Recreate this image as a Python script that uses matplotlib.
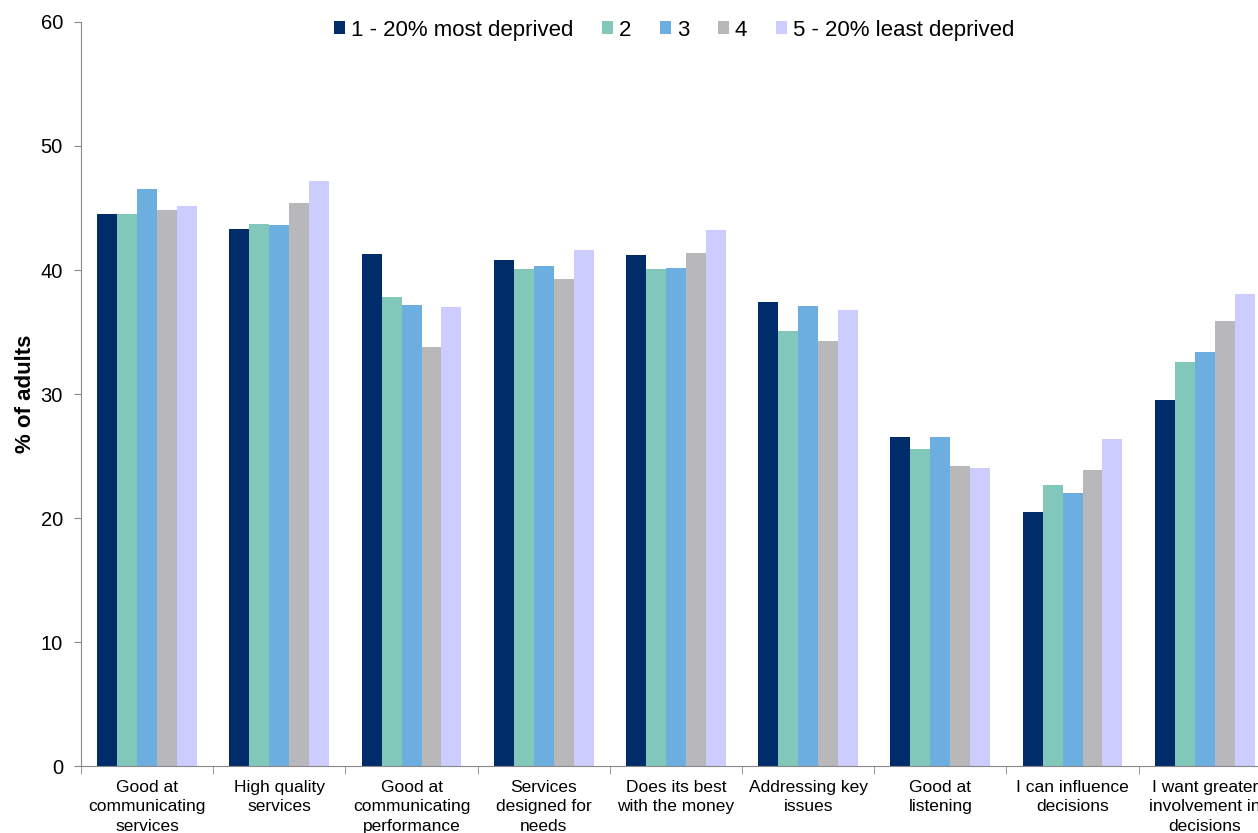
import numpy as np
import matplotlib
matplotlib.use("Agg")
import matplotlib.pyplot as plt

plt.rcParams['font.family'] = ['Liberation Sans', 'DejaVu Sans']

# categories and values (% of adults) per deprivation quintile
categories = [
    "Good at\ncommunicating\nservices",
    "High quality\nservices",
    "Good at\ncommunicating\nperformance",
    "Services\ndesigned for\nneeds",
    "Does its best\nwith the money",
    "Addressing key\nissues",
    "Good at\nlistening",
    "I can influence\ndecisions",
    "I want greater\ninvolvement in\ndecisions",
]
series_names = ["1 - 20% most deprived", "2", "3", "4", "5 - 20% least deprived"]

q1 = [44.5, 43.3, 41.3, 40.8, 41.2, 37.4, 26.5, 20.5, 29.5]
q2 = [44.5, 43.7, 37.8, 40.1, 40.1, 35.1, 25.6, 22.7, 32.6]
q3 = [46.5, 43.6, 37.2, 40.3, 40.2, 37.1, 26.5, 22.0, 33.4]
q4 = [44.8, 45.4, 33.8, 39.3, 41.4, 34.3, 24.2, 23.9, 35.9]
q5 = [45.2, 47.2, 37.0, 41.6, 43.2, 36.8, 24.0, 26.4, 38.1]

colors = ["#002D6A", "#82C8BA", "#6DAEE0", "#B8B8BA", "#CCCCFF"]

fig = plt.figure(figsize=(12.58, 8.33), dpi=100)
ax = fig.add_axes([0.0644, 0.0804, 0.9458, 0.8932])

x = np.arange(len(categories))
width = 0.151
all_series = [q1, q2, q3, q4, q5]
for i, (vals, name, c) in enumerate(zip(all_series, series_names, colors)):
    ax.bar(x + (i - 2) * width, vals, width, color=c, label=name, edgecolor='none')

ax.set_xlim(-0.5, len(categories) - 0.5)
ax.set_ylim(0, 60)
ax.set_yticks(range(0, 61, 10))
ax.tick_params(axis='y', labelsize=14.5, length=5, color='#888888', pad=8)

ax.set_xticks(x)
ax.set_xticklabels(categories, fontsize=12.5, linespacing=1.36)
ax.tick_params(axis='x', which='major', length=0, pad=10)
ax.set_xticks(np.arange(-0.5, len(categories), 1), minor=True)
ax.tick_params(axis='x', which='minor', length=6, color='#888888')

for s in ['top', 'right']:
    ax.spines[s].set_visible(False)
for s in ['left', 'bottom']:
    ax.spines[s].set_color('#888888')

ax.set_ylabel("% of adults", fontsize=16, fontweight='bold', labelpad=3)

ax.legend(loc='upper center', bbox_to_anchor=(0.4985, 1.03), ncol=5, frameon=False,
          fontsize=16, handlelength=0.5, handleheight=0.5, handletextpad=0.25,
          columnspacing=1.3)

fig.savefig("out.png", dpi=100)
